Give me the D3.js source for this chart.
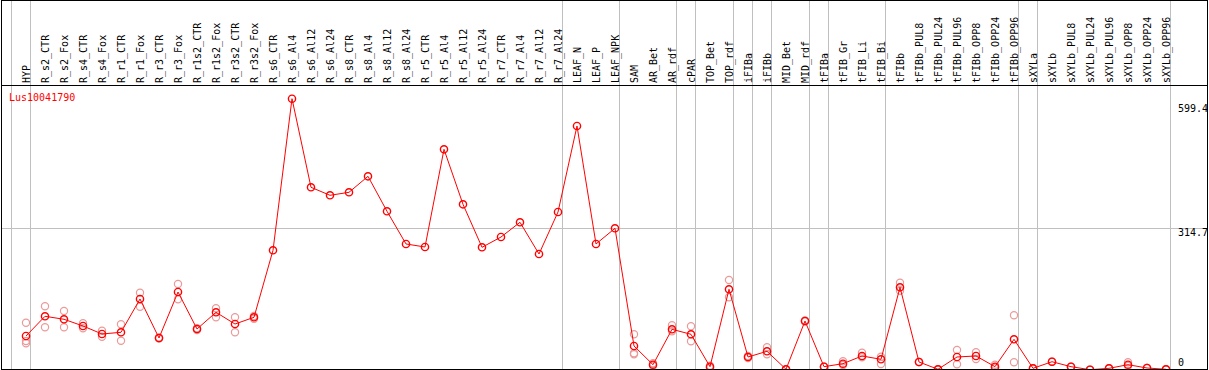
<!DOCTYPE html>
<html>
<head>
<meta charset="utf-8">
<script src="https://cdn.jsdelivr.net/npm/d3@7"></script>
<style>
	body { margin: 0; background: #fff; }
	svg { display: block; }
</style>
</head>
<body>
<svg id="chart" width="1209" height="370"></svg>
<script>
// Gene name
const geneName = 'Lus10041790';

// Samples (x axis)
const categories = [
	'HYP', 'R_s2_CTR', 'R_s2_Fox', 'R_s4_CTR', 'R_s4_Fox', 'R_r1_CTR', 'R_r1_Fox', 'R_r3_CTR', 'R_r3_Fox',
	'R_r1s2_CTR', 'R_r1s2_Fox', 'R_r3s2_CTR', 'R_r3s2_Fox', 'R_s6_CTR', 'R_s6_Al4', 'R_s6_Al12', 'R_s6_Al24',
	'R_s8_CTR', 'R_s8_Al4', 'R_s8_Al12', 'R_s8_Al24', 'R_r5_CTR', 'R_r5_Al4', 'R_r5_Al12', 'R_r5_Al24',
	'R_r7_CTR', 'R_r7_Al4', 'R_r7_Al12', 'R_r7_Al24', 'LEAF_N', 'LEAF_P', 'LEAF_NPK', 'SAM', 'AR_Bet', 'AR_rdf',
	'cPAR', 'TOP_Bet', 'TOP_rdf', 'iFIBa', 'iFIBb', 'MID_Bet', 'MID_rdf', 'tFIBa', 'tFIB_Gr', 'tFIB_Li', 'tFIB_Bi',
	'tFIBb', 'tFIBb_PUL8', 'tFIBb_PUL24', 'tFIBb_PUL96', 'tFIBb_OPP8', 'tFIBb_OPP24', 'tFIBb_OPP96',
	'sXYLa', 'sXYLb', 'sXYLb_PUL8', 'sXYLb_PUL24', 'sXYLb_PUL96', 'sXYLb_OPP8', 'sXYLb_OPP24', 'sXYLb_OPP96'
];

// Mean expression
const meanValues = [
	78.2, 121.5, 114.9, 100.2, 82.6, 86.3, 159.5, 73.8, 174.8,
	93.6, 130.2, 104.5, 119.3, 266.4, 599.4, 404.8, 387.2,
	393.8, 428.9, 352.1, 280.3, 273.7, 488.2, 367.4, 273.0,
	295.6, 327.9, 258.3, 350.5, 539.4, 280.3, 314.7, 56.2, 15.2, 92.9,
	81.9, 10.8, 180.8, 32.1, 44.6, 5.1, 111.1, 10.8, 17.4, 34.3, 27.0,
	185.1, 21.1, 5.1, 32.1, 34.3, 10.8, 70.9,
	7.2, 21.7, 10.8, 4.2, 7.2, 15.2, 7.9, 5.1
];

// Replicates (null = none drawn)
const repA = [
	107.4, 143.4, 133.1, 106.1, 89.8, 103.9, 173.3, 72.5, 192.4,
	95.1, 139.0, 119.3, 122.1, null, null, null, null,
	null, null, null, null, null, null, null, null,
	null, null, null, null, null, null, null, 81.9, 18.2, 101.7,
	99.5, 13.0, 201.2, 34.3, 53.4, 5.1, 112.5, 10.8, 22.6, 41.5, 32.7,
	195.3, 21.1, 5.1, 47.4, 42.4, 15.2, 123.7,
	7.2, 21.7, 10.8, 4.2, 7.2, 20.4, 7.9, 5.1
];
const repB = [
	67.2, 97.3, 97.3, 95.1, 76.7, 67.9, 142.5, 75.0, 158.8,
	91.4, 119.3, 86.3, 116.2, null, null, null, null,
	null, null, null, null, null, null, null, null,
	null, null, null, null, null, null, null, 40.2, 13.0, 88.5,
	66.5, 8.0, 163.2, 29.9, 38.0, 5.1, 109.8, 10.8, 14.5, 31.4, 16.7,
	177.7, 21.1, 5.1, 16.0, 27.7, 8.0, 20.4,
	7.2, 21.7, 10.8, 4.2, 7.2, 12.3, 7.9, 5.1
];
const repC = [
	62.2, null, null, null, null, null, null, null, null,
	null, null, null, null, null, null, null, null,
	null, null, null, null, null, null, null, null,
	null, null, null, null, null, null, null, 38.0, null, null,
	null, null, null, null, null, null, null, null, null, null, null,
	null, null, null, null, null, null, null,
	null, null, null, null, null, null, null, null
];

// Last sample of each group (a separator is drawn after it)
const groupEnds = [
	'HYP', 'R_r7_Al24', 'LEAF_NPK', 'AR_rdf', 'cPAR', 'TOP_rdf', 'iFIBa', 'iFIBb', 'MID_rdf',
	'tFIBa', 'tFIB_Bi', 'tFIBb_OPP96', 'sXYLa', 'sXYLb_OPP96'
];

// Y tick labels
const yTicks = [599.4, 314.7, 0];

const svg = d3.select('#chart');
const width = 1209;
const headerBottom = 85;
const plotBottom = 369;
const font = 'DejaVu Sans Mono, monospace';

const xScale = d3.scalePoint().domain(categories).range([26, 1166]);
const step = xScale.step();

const yScale = d3.scaleLinear().domain([0, 599.4]).range([371.6, 98.7]);

// Clip for the plot area
svg.append('defs')
	.append('clipPath')
	.attr('id', 'plotClip')
	.append('rect')
	.attr('x', 2)
	.attr('y', headerBottom)
	.attr('width', width - 4)
	.attr('height', plotBottom - headerBottom);

// Vertical group separators
const sepX = [xScale(categories[0]) - step, ...groupEnds.map((c) => xScale(c))].map((x) => Math.round(x + 4) + 0.5);
svg.append('g')
	.selectAll('line')
	.data(sepX)
	.enter()
	.append('line')
	.attr('x1', (d) => d)
	.attr('x2', (d) => d)
	.attr('y1', 0)
	.attr('y2', plotBottom)
	.attr('stroke', '#c0c0c0')
	.attr('stroke-width', 1);

// Horizontal gridline (middle tick)
svg.append('line')
	.attr('x1', 2)
	.attr('x2', width - 1)
	.attr('y1', Math.round(yScale(yTicks[1])) + 0.5)
	.attr('y2', Math.round(yScale(yTicks[1])) + 0.5)
	.attr('stroke', '#c0c0c0')
	.attr('stroke-width', 1);

// Header labels
svg.append('g')
	.selectAll('text')
	.data(categories)
	.enter()
	.append('text')
	.attr('transform', (d) => `translate(${xScale(d) + 4},83) rotate(-90)`)
	.attr('font-family', font)
	.attr('font-size', '10px')
	.attr('fill', '#000')
	.text((d) => d);

// Y labels
svg.append('g')
	.selectAll('text')
	.data(yTicks)
	.enter()
	.append('text')
	.attr('x', 1178)
	.attr('y', (d) => Math.min(Math.max(yScale(d) + 8, 112), 366))
	.attr('font-family', font)
	.attr('font-size', '10px')
	.attr('fill', '#000')
	.text((d) => d);

const plot = svg.append('g').attr('clip-path', 'url(#plotClip)');

// Replicate circles
const reps = [];
[repA, repB, repC].forEach((arr) => {
	arr.forEach((v, i) => {
		if (v !== null) reps.push([categories[i], v]);
	});
});

plot.selectAll('circle.rep')
	.data(reps)
	.enter()
	.append('circle')
	.attr('class', 'rep')
	.attr('cx', (d) => xScale(d[0]))
	.attr('cy', (d) => yScale(d[1]))
	.attr('r', 3.6)
	.attr('fill', 'none')
	.attr('stroke', '#eb9a9a')
	.attr('stroke-width', 1.2);

// Mean line
const line = d3.line()
	.x((d, i) => xScale(categories[i]))
	.y((d) => yScale(d));

plot.append('path')
	.datum(meanValues)
	.attr('d', line)
	.attr('fill', 'none')
	.attr('stroke', '#ff0000')
	.attr('stroke-width', 1);

// Mean circles
plot.selectAll('circle.mean')
	.data(meanValues)
	.enter()
	.append('circle')
	.attr('class', 'mean')
	.attr('cx', (d, i) => xScale(categories[i]))
	.attr('cy', (d) => yScale(d))
	.attr('r', 3.6)
	.attr('fill', 'none')
	.attr('stroke', '#ff0000')
	.attr('stroke-width', 1.4);

// Gene label
svg.append('text')
	.attr('x', 9)
	.attr('y', 101)
	.attr('font-family', font)
	.attr('font-size', '10px')
	.attr('fill', '#ff0000')
	.text(geneName);

// Borders
svg.append('rect')
	.attr('x', 1.5)
	.attr('y', 0.5)
	.attr('width', width - 3)
	.attr('height', plotBottom)
	.attr('fill', 'none')
	.attr('stroke', '#000')
	.attr('stroke-width', 1);

svg.append('line')
	.attr('x1', 1)
	.attr('x2', width - 1)
	.attr('y1', headerBottom + 0.5)
	.attr('y2', headerBottom + 0.5)
	.attr('stroke', '#000')
	.attr('stroke-width', 1);
</script>
</body>
</html>
